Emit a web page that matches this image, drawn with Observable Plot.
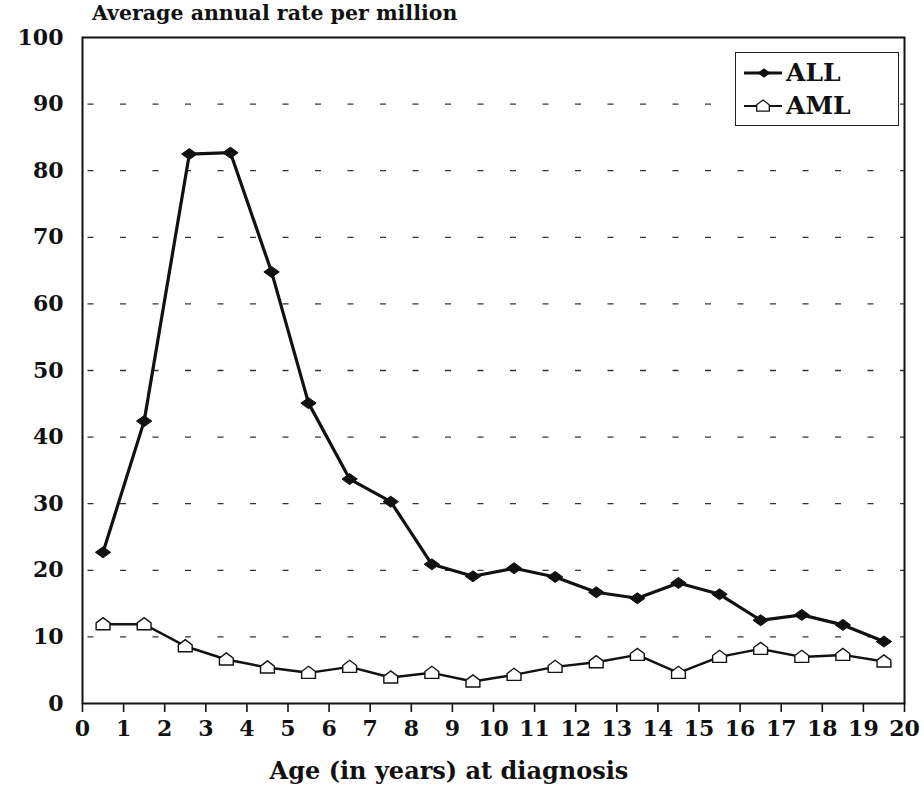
<!DOCTYPE html>
<html>
<head>
<meta charset="utf-8">
<script src="https://cdn.jsdelivr.net/npm/d3@7"></script>
<script src="https://cdn.jsdelivr.net/npm/@observablehq/plot@0.6"></script>
<style>
  body { margin: 0; background: #fff; }
  #wrap { position: relative; width: 924px; height: 785px; font-family: 'DejaVu Serif', serif; font-weight: bold; color: #111; }
  #title { position: absolute; left: 92px; top: 1px; font-family: 'DejaVu Serif', serif; font-weight: bold; font-size: 20.5px; white-space: nowrap; }
  #xlabel { position: absolute; left: 0; width: 898px; text-align: center; top: 756px; font-family: 'DejaVu Serif', serif; font-weight: bold; font-size: 24px; white-space: nowrap; }
  #legend { position: absolute; left: 735px; top: 52px; width: 164px; height: 74px; border: 1.5px solid #222; box-sizing: border-box; background: #fff; }
  .lg { position: absolute; left: 7px; display: flex; align-items: center; font-family: 'DejaVu Serif', serif; font-weight: bold; font-size: 25px; line-height: 30px; }
  .lg svg { margin-right: 3px; }
</style>
</head>
<body>
<div id="wrap">
  <div id="chart"></div>
  <div id="title">Average annual rate per million</div>
  <div id="xlabel">Age (in years) at diagnosis</div>
  <div id="legend"></div>
</div>
<script>
// Data
const agesALL = [0.5, 1.5, 2.6, 3.6, 4.6, 5.5, 6.5, 7.5, 8.5, 9.5, 10.5, 11.5, 12.5, 13.5, 14.5, 15.5, 16.5, 17.5, 18.5, 19.5];
const valuesALL = [22.7, 42.4, 82.5, 82.7, 64.8, 45.1, 33.7, 30.3, 20.9, 19.1, 20.3, 19.0, 16.7, 15.8, 18.1, 16.4, 12.5, 13.3, 11.8, 9.3];
const agesAML = [0.5, 1.5, 2.5, 3.5, 4.5, 5.5, 6.5, 7.5, 8.5, 9.5, 10.5, 11.5, 12.5, 13.5, 14.5, 15.5, 16.5, 17.5, 18.5, 19.5];
const valuesAML = [11.9, 11.9, 8.6, 6.6, 5.4, 4.6, 5.5, 3.9, 4.6, 3.3, 4.3, 5.5, 6.2, 7.3, 4.6, 7.0, 8.2, 7.0, 7.3, 6.3];
const xTicks = d3.range(0, 21);
const yTicks = d3.range(0, 101, 10);
const gridLines = d3.range(10, 100, 10);
const seriesNames = ["ALL", "AML"];

const dataALL = agesALL.map((a, i) => ({age: a, value: valuesALL[i]}));
const dataAML = agesAML.map((a, i) => ({age: a, value: valuesAML[i]}));

// open "house"-shaped pentagon symbol for AML
const house = {
  draw(ctx, size) {
    const h = Math.sqrt(size) * 0.6;
    ctx.moveTo(-h, h * 0.8);
    ctx.lineTo(h, h * 0.8);
    ctx.lineTo(h, -0.2 * h);
    ctx.lineTo(0, -h * 0.95);
    ctx.lineTo(-h, -0.2 * h);
    ctx.closePath();
  }
};
// flat (wider than tall) filled diamond for ALL
const flatDiamond = {
  draw(ctx, size) {
    const w = Math.sqrt(size) * 0.62;
    const h = w * 0.72;
    ctx.moveTo(-w, 0);
    ctx.lineTo(0, -h);
    ctx.lineTo(w, 0);
    ctx.lineTo(0, h);
    ctx.closePath();
  }
};

const chart = Plot.plot({
  width: 924,
  height: 785,
  marginLeft: 82,
  marginRight: 20,
  marginTop: 37,
  marginBottom: 82,
  style: {fontFamily: "'DejaVu Serif', serif", fontWeight: "bold", fontSize: "22px", color: "#111", background: "white"},
  x: {domain: [0, 20]},
  y: {domain: [0, 100]},
  marks: [
    Plot.ruleY(gridLines, {stroke: "#333", strokeWidth: 1.3, strokeDasharray: "6,26.5", strokeDashoffset: 27}),
    Plot.frame({stroke: "#111", strokeWidth: 2}),
    Plot.axisX({ticks: xTicks, tickSize: 9, tickPadding: 8, tickFormat: d => String(d), label: null, strokeWidth: 1.6, fontSize: 22}),
    Plot.axisY({ticks: yTicks, tickSize: 0, tickPadding: 19, tickFormat: d => String(d), label: null, fontSize: 22}),
    Plot.line(dataAML, {x: "age", y: "value", stroke: "#111", strokeWidth: 2.5}),
    Plot.dot(dataAML, {x: "age", y: "value", symbol: house, r: 6.5, fill: "white", stroke: "#111", strokeWidth: 1.4}),
    Plot.line(dataALL, {x: "age", y: "value", stroke: "#111", strokeWidth: 3.2}),
    Plot.dot(dataALL, {x: "age", y: "value", symbol: flatDiamond, r: 7, fill: "#111", stroke: "#111", strokeWidth: 1})
  ]
});
document.getElementById("chart").appendChild(chart);

// Legend
const legend = document.getElementById("legend");
seriesNames.forEach((name, i) => {
  const row = document.createElement("div");
  row.className = "lg";
  row.style.top = (i === 0 ? 5 : 38) + "px";
  const svg = d3.create("svg").attr("width", 40).attr("height", 28);
  svg.append("line").attr("x1", 1).attr("x2", 39).attr("y1", 14).attr("y2", 14)
    .attr("stroke", "#111").attr("stroke-width", i === 0 ? 3 : 2);
  if (i === 0) {
    svg.append("path").attr("d", d3.symbol(flatDiamond, 110)()).attr("transform", "translate(21,14)").attr("fill", "#111");
  } else {
    svg.append("path").attr("d", d3.symbol(house, 110)()).attr("transform", "translate(20,14)")
      .attr("fill", "white").attr("stroke", "#111").attr("stroke-width", 1.3);
  }
  row.appendChild(svg.node());
  const t = document.createElement("span");
  t.textContent = name;
  row.appendChild(t);
  legend.appendChild(row);
});
</script>
</body>
</html>
